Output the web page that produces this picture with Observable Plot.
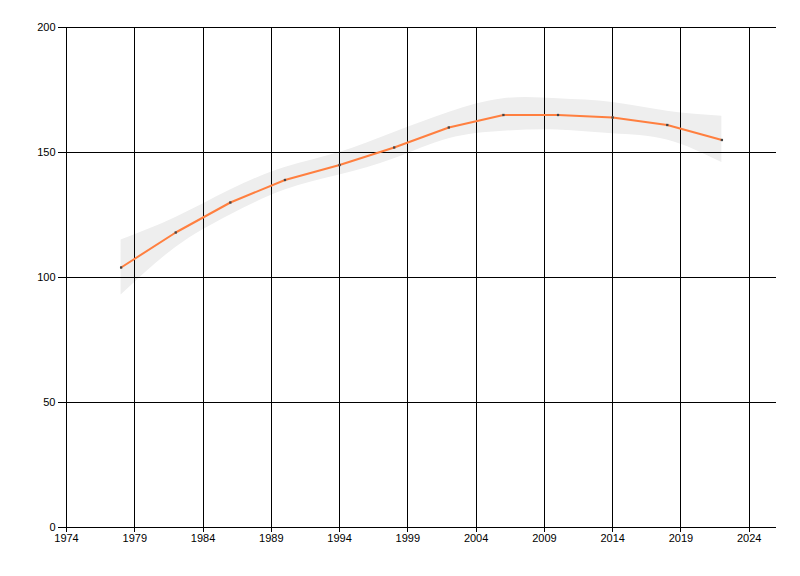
<!DOCTYPE html>
<html>
<head>
<meta charset="utf-8">
<script src="https://cdn.jsdelivr.net/npm/d3@7"></script>
<script src="https://cdn.jsdelivr.net/npm/@observablehq/plot@0.6"></script>
<style>
  html, body { margin: 0; padding: 0; background: #fff; }
</style>
</head>
<body>
<div id="chart"></div>
<script>
const years  = [1978, 1982, 1986, 1990, 1994, 1998, 2002, 2006, 2010, 2014, 2018, 2022];
const values = [104, 118, 130, 139, 145, 152, 160, 165, 165, 164, 161, 155];
const upper  = [115, 124, 135, 144, 150, 158, 166, 171.5, 171.5, 170, 166.5, 164.5];
const lower  = [93, 112, 125, 135, 141, 147.5, 155.5, 158.5, 159, 157.5, 155, 146];
const xTicks = [1974, 1979, 1984, 1989, 1994, 1999, 2004, 2009, 2014, 2019, 2024];
const yTicks = [0, 50, 100, 150, 200];

const data = years.map((y, i) => ({year: y, value: values[i], hi: upper[i], lo: lower[i]}));

const chart = Plot.plot({
  width: 800,
  height: 576,
  marginLeft: 66,
  marginRight: 24,
  marginTop: 27,
  marginBottom: 49,
  style: {fontFamily: "'Liberation Sans', Arial, sans-serif", fontSize: "11px", color: "#000", background: "#fff"},
  x: {domain: [1974, 2026], ticks: xTicks, tickFormat: "d", tickSize: 5, tickPadding: 2, label: null},
  y: {domain: [0, 200], ticks: yTicks, tickSize: 8, tickPadding: 3, label: null},
  marks: [
    Plot.areaY(data, {x: "year", y1: "lo", y2: "hi", fill: "#eeeeee", curve: "natural"}),
    Plot.ruleX(xTicks, {stroke: "#000", strokeWidth: 1, shapeRendering: "crispEdges"}),
    Plot.ruleY(yTicks, {stroke: "#000", strokeWidth: 1, shapeRendering: "crispEdges"}),
    Plot.lineY(data, {x: "year", y: "value", stroke: "#ff7f3f", strokeWidth: 2}),
    Plot.dot(data, {x: "year", y: "value", r: 1.3, fill: "#444", stroke: null, symbol: "square"}),
    Plot.axisX({ticks: xTicks, tickFormat: "d", tickSize: 5, tickPadding: 2, stroke: "#000", strokeOpacity: 1, shapeRendering: "crispEdges"}),
    Plot.axisY({ticks: yTicks, tickSize: 8, tickPadding: 3, stroke: "#000", strokeOpacity: 1, shapeRendering: "crispEdges"})
  ]
});
document.getElementById("chart").appendChild(chart);
</script>
</body>
</html>
